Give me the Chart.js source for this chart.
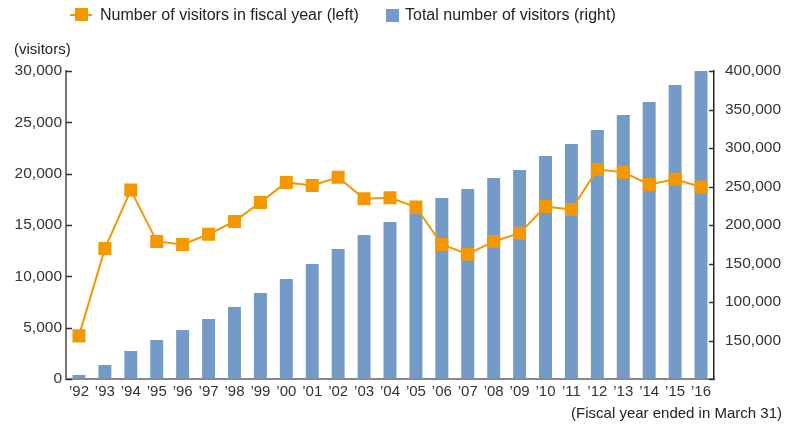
<!DOCTYPE html>
<html>
<head>
<meta charset="utf-8">
<script src="https://cdn.jsdelivr.net/npm/chart.js@4/dist/chart.umd.min.js"></script>
<style>
  html, body { margin: 0; padding: 0; background: #fff; }
  #wrap { position: relative; width: 793px; height: 426px; font-family: "Liberation Sans", Arial, sans-serif; color: #222; }
  #chart { position: absolute; left: 0; top: 0; }
  .txt { position: absolute; font-size: 15px; white-space: nowrap; }
  .leg { font-size: 16px; }
  .lineKey { position: absolute; left: 70px; top: 14px; width: 22px; height: 2px; background: #F39800; }
  .lineKey span { position: absolute; left: 5px; top: -6px; width: 13px; height: 13px; background: #F39800; }
  .barKey { position: absolute; left: 386px; top: 9px; width: 13px; height: 13px; background: #749AC7; }
</style>
</head>
<body>
<div id="wrap">
  <canvas id="chart" width="793" height="426"></canvas>
  <div class="lineKey"><span></span></div>
  <div class="txt leg" style="left:100px; top:6px;">Number of visitors in fiscal year (left)</div>
  <div class="barKey"></div>
  <div class="txt leg" style="left:405px; top:6px;">Total number of visitors (right)</div>
  <div class="txt" style="left:14px; top:40px;">(visitors)</div>
  <div class="txt" style="right:11px; top:404px;">(Fiscal year ended in March 31)</div>
</div>
<script>
  var years = ['’92','’93','’94','’95','’96','’97','’98','’99','’00','’01','’02','’03','’04',
               '’05','’06','’07','’08','’09','’10','’11','’12','’13','’14','’15','’16'];
  // visitors in the fiscal year (left axis)
  var yearVisitors = [4200, 12700, 18400, 13400, 13100, 14100, 15350, 17200, 19150, 18850, 19650, 17550, 17650,
                      16750, 13100, 12150, 13400, 14200, 16800, 16500, 20400, 20150, 18950, 19450, 18700];
  // cumulative visitors (right axis)
  var totalVisitors = [5200, 18200, 36400, 50600, 63600, 77900, 93500, 111700, 129900, 149400, 168800, 187000, 203900,
                       215200, 235000, 246800, 261000, 271400, 289600, 305200, 323400, 342900, 359700, 381800, 400500];
  var rightTickLabels = ['', '150,000', '100,000', '150,000', '200,000', '250,000', '300,000', '350,000', '400,000'];

  var orange = '#F39800';
  var blue = '#749AC7';

  // short tick marks drawn inside the plot area
  var innerTicks = {
    id: 'innerTicks',
    beforeDatasetsDraw: function (chart) {
      var ctx = chart.ctx;
      var yl = chart.scales.yLeft, yr = chart.scales.yRight;
      ctx.save();
      ctx.strokeStyle = '#333';
      ctx.lineWidth = 1.5;
      yl.ticks.forEach(function (t) {
        var y = Math.round(yl.getPixelForValue(t.value)) + 0.5;
        ctx.beginPath(); ctx.moveTo(yl.right, y); ctx.lineTo(yl.right + 6, y); ctx.stroke();
      });
      yr.ticks.forEach(function (t) {
        var y = Math.round(yr.getPixelForValue(t.value)) + 0.5;
        ctx.beginPath(); ctx.moveTo(yr.left - 5, y); ctx.lineTo(yr.left, y); ctx.stroke();
      });
      ctx.restore();
    }
  };

  var ctx = document.getElementById('chart').getContext('2d');
  new Chart(ctx, {
    data: {
      labels: years,
      datasets: [{
        type: 'line',
        label: 'Number of visitors in fiscal year (left)',
        data: yearVisitors,
        yAxisID: 'yLeft',
        borderColor: orange,
        backgroundColor: orange,
        borderWidth: 2,
        pointStyle: 'rect',
        pointRadius: 9.2,
        pointBorderWidth: 0,
        tension: 0,
        order: 0
      }, {
        type: 'bar',
        label: 'Total number of visitors (right)',
        data: totalVisitors,
        yAxisID: 'yRight',
        backgroundColor: blue,
        categoryPercentage: 1,
        barPercentage: 0.5,
        order: 1
      }]
    },
    options: {
      responsive: false,
      animation: false,
      layout: { padding: { top: 71, left: 0, right: 0, bottom: 0 } },
      plugins: { legend: { display: false }, tooltip: { enabled: false } },
      scales: {
        x: {
          offset: true,
          grid: { display: false, drawTicks: false },
          border: { display: true, color: '#888', width: 2 },
          ticks: { color: '#333', font: { family: 'Liberation Sans', size: 15 }, maxRotation: 0, autoSkip: false, padding: 4 },
          afterFit: function (s) { s.height = 47; }
        },
        yLeft: {
          position: 'left',
          min: 0, max: 30000,
          grid: { drawOnChartArea: false, drawTicks: false },
          border: { display: true, color: '#777', width: 2 },
          ticks: {
            stepSize: 5000, color: '#333', padding: 4,
            font: { family: 'Liberation Sans', size: 15.5 },
            callback: function (v) { return v.toLocaleString('en-US'); }
          },
          afterFit: function (s) { s.width = 66; }
        },
        yRight: {
          position: 'right',
          min: 0, max: 400000,
          grid: { drawOnChartArea: false, drawTicks: false },
          border: { display: true, color: '#222', width: 1.5 },
          ticks: {
            stepSize: 50000, color: '#333', padding: 11,
            font: { family: 'Liberation Sans', size: 15.5 },
            callback: function (v, i) { return rightTickLabels[i]; }
          },
          afterFit: function (s) { s.width = 79; }
        }
      }
    },
    plugins: [innerTicks]
  });
</script>
</body>
</html>
